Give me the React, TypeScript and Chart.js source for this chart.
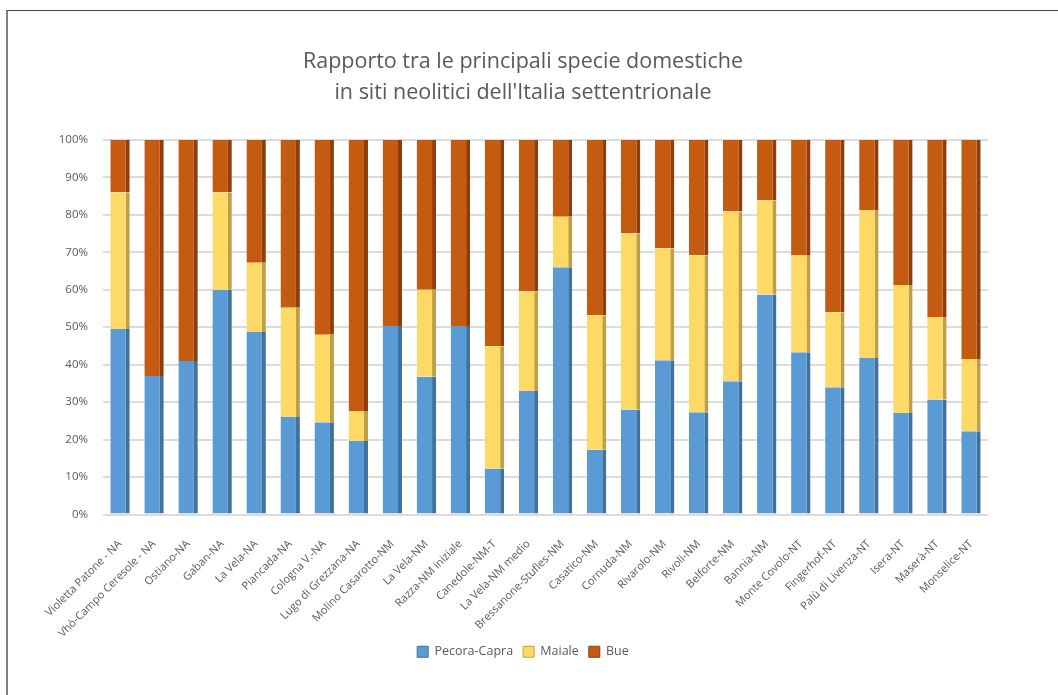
import React, { useEffect, useRef } from "react";
import { Chart, registerables } from "chart.js";

Chart.register(...registerables);

const categories = [
  "Violetta Patone - NA",
  "Vhò-Campo Ceresole - NA",
  "Ostiano-NA",
  "Gaban-NA",
  "La Vela-NA",
  "Piancada-NA",
  "Cologna V.-NA",
  "Lugo di Grezzana-NA",
  "Molino Casarotto-NM",
  "La Vela-NM",
  "Razza-NM iniziale",
  "Canedole-NM-T",
  "La Vela-NM medio",
  "Bressanone-Stufles-NM",
  "Casatico-NM",
  "Cornuda-NM",
  "Rivarolo-NM",
  "Rivoli-NM",
  "Belforte-NM",
  "Bannia-NM",
  "Monte Covolo-NT",
  "Fingerhof-NT",
  "Palù di Livenza-NT",
  "Isera-NT",
  "Maserà-NT",
  "Monselice-NT",
];

const pecoraCapra = [49.5, 37, 41, 60, 48.7, 26, 24.6, 19.6, 50.3, 36.8, 50.3, 12.3, 33, 66, 17.3, 28, 41.2, 27.3, 35.6, 58.7, 43.3, 34, 41.8, 27.1, 30.7, 22.2];
const maiale = [36.5, 0, 0, 26, 18.5, 29.2, 23.4, 8, 0, 23.2, 0, 32.6, 26.5, 13.5, 35.9, 47, 29.9, 41.9, 45.3, 25.1, 26, 20, 39.5, 34.2, 22, 19.3];
const bue = [14, 63, 59, 14, 32.8, 44.8, 52, 72.4, 49.7, 40, 49.7, 55.1, 40.5, 20.5, 46.8, 25, 28.9, 30.8, 19.1, 16.2, 30.7, 46, 18.7, 38.7, 47.3, 58.5];

const seriesNames = ["Pecora-Capra", "Maiale", "Bue"];
const yTicks = [0, 10, 20, 30, 40, 50, 60, 70, 80, 90, 100];
const titleLines = [
  "Rapporto tra le principali specie domestiche",
  "in siti neolitici dell'Italia settentrionale",
];

const FONT = "'Open Sans', 'DejaVu Sans', sans-serif";
const TEXT = "#595959";

export default function App() {
  const ref = useRef<HTMLCanvasElement | null>(null);

  useEffect(() => {
    if (!ref.current) return;
    const mk = (label: string, data: number[], color: string, side: string) => ({
      label,
      data,
      backgroundColor: color,
      borderColor: side,
      borderWidth: { top: 0, left: 0, bottom: 0, right: 4 },
      borderSkipped: false,
      barPercentage: 0.57,
      categoryPercentage: 1,
    });
    const chart = new Chart(ref.current, {
      type: "bar",
      data: {
        labels: categories,
        datasets: [
          mk(seriesNames[0], pecoraCapra, "#5B9BD5", "#41719C"),
          mk(seriesNames[1], maiale, "#FFD966", "#BF9F45"),
          mk(seriesNames[2], bue, "#C55A11", "#8C3F0C"),
        ],
      },
      options: {
        animation: false,
        responsive: false,
        devicePixelRatio: 1,
        layout: { padding: { left: 58, right: 70, top: 0, bottom: 27 } },
        plugins: {
          title: {
            display: true,
            text: titleLines,
            color: TEXT,
            font: { family: FONT, size: 21.5, weight: "normal", lineHeight: 1.44 },
            padding: { top: 46.5, bottom: 31.5 },
          },
          legend: {
            position: "bottom",
            labels: {
              boxWidth: 11,
              boxHeight: 11,
              padding: 10,
              color: TEXT,
              font: { family: FONT, size: 12.5 },
            },
          },
          tooltip: { enabled: false },
        },
        scales: {
          x: {
            stacked: true,
            grid: { display: false },
            border: { display: false },
            ticks: {
              color: TEXT,
              font: { family: FONT, size: 11 },
              minRotation: 45,
              maxRotation: 45,
              autoSkip: false,
              padding: 15,
            },
            afterFit: (s: any) => {
              s.height = 121;
            },
          },
          y: {
            stacked: true,
            min: 0,
            max: 100,
            afterBuildTicks: (s: any) => {
              s.ticks = yTicks.map((v) => ({ value: v }));
            },
            grid: { color: "#dcdcdc", lineWidth: 2, drawTicks: false },
            border: { display: false },
            ticks: {
              color: TEXT,
              font: { family: FONT, size: 11.5 },
              padding: 15,
              callback: (v: any) => v + "%",
            },
            afterFit: (s: any) => {
              s.width = 45;
            },
          },
        },
      },
    } as any);
    return () => chart.destroy();
  }, []);

  return (
    <div style={{ position: "fixed", left: 0, top: 0, width: 1058, height: 695, background: "#fff", overflow: "hidden" }}>
      <div
        style={{
          position: "absolute",
          left: 6,
          top: 10,
          width: 1200,
          height: 800,
          borderTop: "1.5px solid #444",
          borderLeft: "2px solid #808080",
        }}
      />
      <canvas ref={ref} width={1058} height={695} style={{ position: "absolute", left: 0, top: 0 }} />
    </div>
  );
}
